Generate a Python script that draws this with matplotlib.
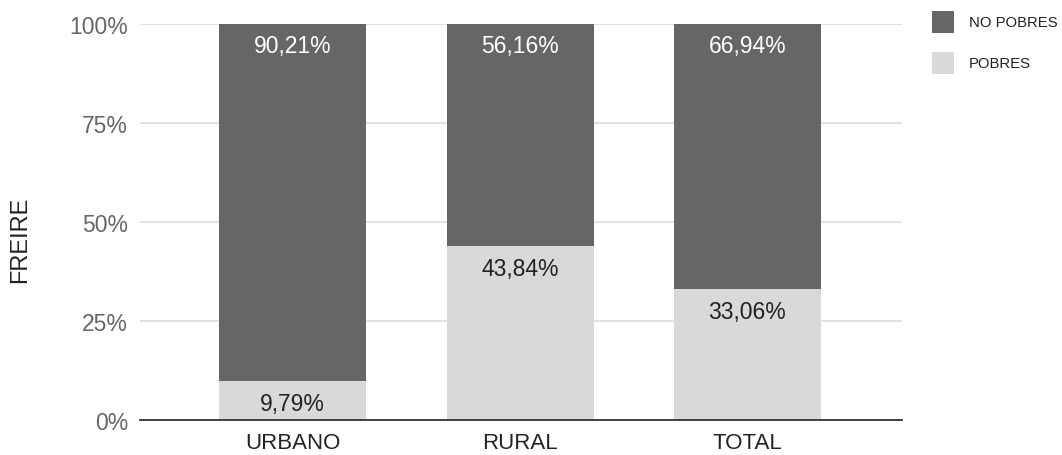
import matplotlib
matplotlib.use("Agg")
import matplotlib.pyplot as plt
from matplotlib.patches import Rectangle

categories = ["URBANO", "RURAL", "TOTAL"]
pobres = [9.79, 43.84, 33.06]
no_pobres = [90.21, 56.16, 66.94]
pobres_labels = ["9,79%", "43,84%", "33,06%"]
no_pobres_labels = ["90,21%", "56,16%", "66,94%"]
yticks = [0, 25, 50, 75, 100]
ytick_labels = ["0%", "25%", "50%", "75%", "100%"]
legend_labels = ["NO POBRES", "POBRES"]

dark = "#666666"
light = "#d9d9d9"

plt.rcParams['font.family'] = ['Liberation Sans', 'DejaVu Sans']

fig = plt.figure(figsize=(10.62, 4.56), dpi=100)
ax = fig.add_axes([140/1062, 1-421/456, 762/1062, 396/456])

x = list(range(len(categories)))
w = 0.646
ax.bar(x, pobres, width=w, color=light, zorder=3)
ax.bar(x, no_pobres, width=w, bottom=pobres, color=dark, zorder=3)

for i in x:
    ax.annotate(pobres_labels[i], (i, pobres[i]), xytext=(0, -22), textcoords="offset pixels",
                ha="center", va="center", fontsize=16.5, color="#222222", zorder=4)
    ax.annotate(no_pobres_labels[i], (i, 100), xytext=(0, -22), textcoords="offset pixels",
                ha="center", va="center", fontsize=16.5, color="white", zorder=4)

ax.set_xlim(-0.672, 2.68)
ax.set_ylim(0, 100)
ax.set_yticks(yticks)
ax.set_yticklabels(ytick_labels, fontsize=16.5, color="#666666")
ax.set_xticks(x)
ax.set_xticklabels(categories, fontsize=16, color="#222222")
ax.tick_params(axis="both", length=0)
ax.tick_params(axis="y", pad=8.6)
ax.tick_params(axis="x", pad=8.5)
ax.grid(axis="y", color="#dddddd", linewidth=1.2, zorder=0)
for s in ["top", "right", "left"]:
    ax.spines[s].set_visible(False)
ax.spines["bottom"].set_color("#333333")
ax.spines["bottom"].set_linewidth(1.3)
ax.spines["bottom"].set_zorder(5)

fig.text(20/1062, 1-240/456, "FREIRE", rotation=90, ha="center", va="center",
         fontsize=17, color="#222222")

# legend
legend_colors = [dark, light]
legend_y = [23, 64]
for lab, col, yc in zip(legend_labels, legend_colors, legend_y):
    fig.patches.append(Rectangle((932/1062, 1-(yc+11)/456), 22/1062, 22/456,
                                 transform=fig.transFigure, facecolor=col, edgecolor="none"))
    fig.text(969/1062, 1-yc/456, lab, ha="left", va="center", fontsize=10.7, color="#222222")

fig.savefig("out.png", dpi=100)
